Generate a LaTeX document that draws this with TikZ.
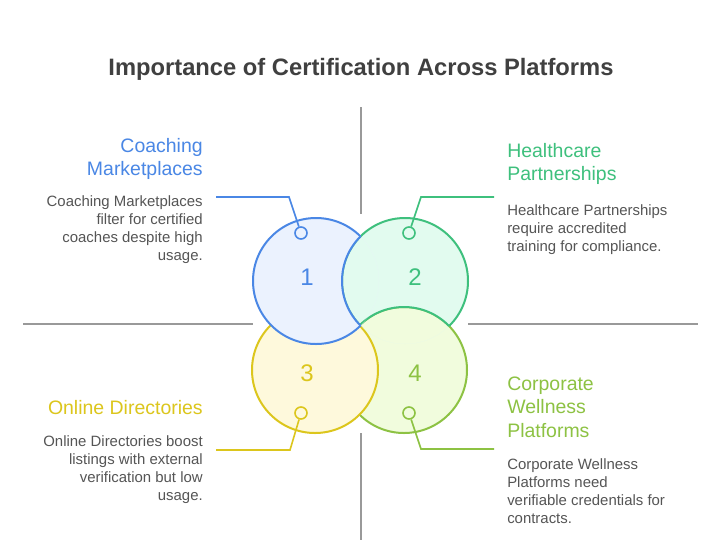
\documentclass[tikz,border=0pt]{standalone}
\usepackage{fontspec}
\setmainfont{Liberation Sans}
\definecolor{cA}{HTML}{4A87E5}
\definecolor{cB}{HTML}{3EC07D}
\definecolor{cC}{HTML}{DCC61C}
\definecolor{cD}{HTML}{8DC243}
\definecolor{fA}{HTML}{EBF2FE}
\definecolor{fB}{HTML}{E2FBEF}
\definecolor{fC}{HTML}{FEF9DC}
\definecolor{fD}{HTML}{F1FCDD}
\definecolor{txt}{HTML}{555555}
\definecolor{ttl}{HTML}{404040}
\definecolor{sep}{HTML}{999999}
\begin{document}
\begin{tikzpicture}[x=0.75pt,y=-0.75pt,
  ring/.style={line width=1.5pt},
  sepline/.style={draw=sep,line width=1.5pt},
  dot/.style={circle,draw,line width=1.2pt,minimum size=9pt,inner sep=0pt},
  conn/.style={line width=1.2pt},
  num/.style={font=\fontsize{18}{18}\selectfont},
  head/.style={inner sep=0pt,text width=180pt,font=\fontsize{14.6}{17.8}\selectfont},
  body/.style={inner sep=0pt,text width=180pt,text=txt,font=\fontsize{11.2}{13.5}\selectfont}]
\useasboundingbox[fill=white] (0,0) rectangle (721,551);
\def\R{47.25pt}
% centers
\coordinate (c1) at (316,281);
\coordinate (c2) at (405,281);
\coordinate (c3) at (315,370);
\coordinate (c4) at (404,370);
% separator lines
\coordinate (s1a) at (361,107); \coordinate (s1b) at (361,214);
\coordinate (s2a) at (361,433); \coordinate (s2b) at (361,540);
\coordinate (s3a) at (23,324);  \coordinate (s3b) at (253,324);
\coordinate (s4a) at (468,324); \coordinate (s4b) at (698,324);
\draw[sepline] (s1a) -- (s1b);
\draw[sepline] (s2a) -- (s2b);
\draw[sepline] (s3a) -- (s3b);
\draw[sepline] (s4a) -- (s4b);
% circle 4 and 3 full
\draw[ring,draw=cD,fill=fD] (c4) circle[radius=\R];
\draw[ring,draw=cC,fill=fC] (c3) circle[radius=\R];
% circle 2 minus circle 4
\begin{scope}
  \clip (c2) circle[radius=\R];
  \fill[fB,even odd rule] (c2) circle[radius=\R] (c4) circle[radius=\R];
  \draw[ring,draw=cB] (c4) circle[radius=\R];
\end{scope}
\begin{scope}[even odd rule]
  \clip (-10,-10) rectangle (740,570) (c4) circle[radius=\R];
  \draw[ring,draw=cB] (c2) circle[radius=\R];
\end{scope}
% circle 1 minus circle 2
\begin{scope}
  \clip (c1) circle[radius=\R];
  \fill[fA,even odd rule] (c1) circle[radius=\R] (c2) circle[radius=\R];
  \draw[ring,draw=cA] (c2) circle[radius=\R];
\end{scope}
\begin{scope}[even odd rule]
  \clip (-10,-10) rectangle (740,570) (c2) circle[radius=\R];
  \draw[ring,draw=cA] (c1) circle[radius=\R];
\end{scope}
% numbers
\node[num,text=cA] (n1) at (307,277) {1};
\node[num,text=cB] (n2) at (415,277) {2};
\node[num,text=cC] (n3) at (307,373) {3};
\node[num,text=cD] (n4) at (415,373) {4};
% connectors
\coordinate (e1) at (289,197); \coordinate (t1) at (216,197);
\coordinate (e2) at (421,197); \coordinate (t2) at (494,197);
\coordinate (e3) at (290,450); \coordinate (t3) at (216,450);
\coordinate (e4) at (421,449); \coordinate (t4) at (494,449);
\node[dot,draw=cA,fill=fA] (d1) at (301,233) {};
\node[dot,draw=cB,fill=fB] (d2) at (409,233) {};
\node[dot,draw=cC,fill=fC] (d3) at (301,413) {};
\node[dot,draw=cD,fill=fD] (d4) at (409,413) {};
\draw[conn,cA] (d1) -- (e1) -- (t1);
\draw[conn,cB] (d2) -- (e2) -- (t2);
\draw[conn,cC] (d3) -- (e3) -- (t3);
\draw[conn,cD] (d4) -- (e4) -- (t4);
% title
\node[text=ttl,font=\fontsize{17.8}{20}\selectfont\bfseries,inner sep=0pt,anchor=base] (title) at (361,75) {Importance of Certification Across Platforms};
% texts
\node[head,text=cA,align=flush right,anchor=base east] (h1) at (203,152) {Coaching\\Marketplaces};
\node[body,align=flush right,anchor=base east] (b1) at (203,206) {Coaching Marketplaces\\filter for certified\\coaches despite high\\usage.};
\node[head,text=cB,align=flush left,anchor=base west] (h2) at (507,157) {Healthcare\\Partnerships};
\node[body,align=flush left,anchor=base west] (b2) at (507,215) {Healthcare Partnerships\\require accredited\\training for compliance.};
\node[head,text=cC,align=flush right,anchor=base east] (h3) at (203,414) {Online Directories};
\node[body,align=flush right,anchor=base east] (b3) at (203,446) {Online Directories boost\\listings with external\\verification but low\\usage.};
\node[head,text=cD,align=flush left,anchor=base west] (h4) at (507,390) {Corporate\\Wellness\\Platforms};
\node[body,align=flush left,anchor=base west] (b4) at (507,469) {Corporate Wellness\\Platforms need\\verifiable credentials for\\contracts.};
\end{tikzpicture}
\end{document}
